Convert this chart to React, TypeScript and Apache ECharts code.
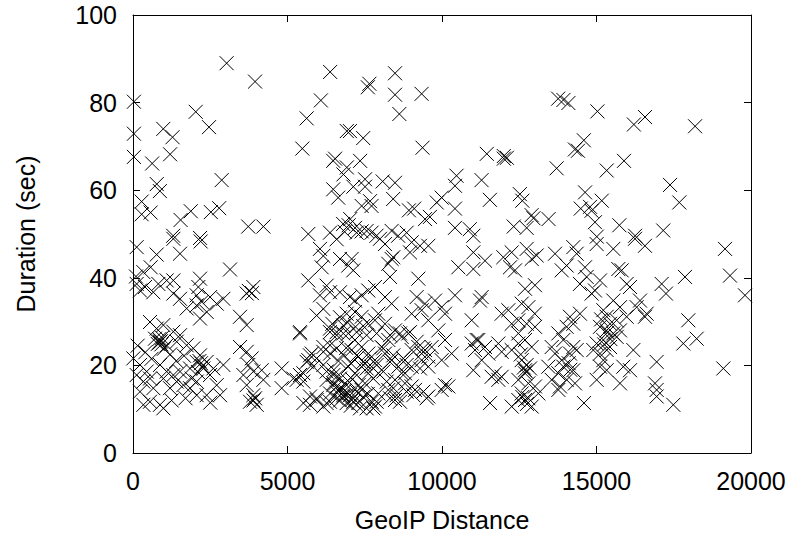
import React, { useEffect, useRef } from "react";
import * as echarts from "echarts";

// Tick labels
const xTicks = [0, 5000, 10000, 15000, 20000];
const yTicks = [0, 20, 40, 60, 80, 100];

// Points [GeoIP distance, duration (sec)], by region
const westHigh: number[][] = [
  [3030, 89.0], [3950, 84.8], [6380, 87.0], [30, 80.2], [6080, 80.5], [2030, 77.9], [5620, 76.4],
  [2460, 74.4], [980, 74.0], [1280, 72.1], [30, 72.9], [6920, 73.5], [1200, 68.2], [30, 67.6],
  [620, 66.1], [5480, 69.5], [6480, 66.7], [6540, 67.2], [6810, 63.6], [2870, 62.3], [770, 61.4],
  [870, 59.8], [280, 57.4], [6480, 60.2], [6640, 58.3], [280, 54.5], [570, 54.9], [1540, 53.2],
  [1870, 55.2], [2520, 55.0], [2790, 55.9], [3730, 51.7], [4220, 51.7], [1300, 49.6], [2170, 49.1],
  [6800, 52.3], [6850, 50.5],
];

const centralHigh: number[][] = [
  [8480, 86.7], [7600, 83.5], [7650, 84.3], [8480, 81.8], [9340, 82.0], [8620, 77.4], [13760, 80.9],
  [7020, 73.5], [7450, 71.9], [9370, 69.7], [11450, 68.3], [12000, 67.8], [12100, 67.4], [13710, 65.0],
  [7350, 66.7], [6920, 65.2], [10470, 63.3], [11280, 62.3], [8480, 61.7], [7510, 62.5], [7510, 60.8],
  [7130, 60.8], [8080, 62.0], [10420, 61.0], [12520, 59.1], [12600, 57.6], [11550, 57.8], [9990, 58.3],
  [8420, 58.0], [7670, 57.5], [7720, 56.4], [7400, 56.4], [9830, 57.2], [10420, 55.8], [8930, 55.4],
  [9100, 55.8], [12900, 54.3], [12960, 53.6], [13450, 53.4], [9610, 53.9], [9450, 53.4], [7030, 53.4],
  [6980, 52.0], [10420, 51.4], [10900, 51.1], [12320, 51.7], [12740, 51.4], [7720, 50.3], [7880, 49.6],
  [8370, 50.7], [8580, 49.6], [7185, 51.4], [7400, 50.6],
];

const eastHigh: number[][] = [
  [13930, 80.6], [14090, 79.9], [15030, 78.0], [16210, 75.0], [16570, 76.7], [18190, 74.6], [14590, 71.4],
  [14300, 69.3], [14400, 69.0], [15330, 64.5], [15890, 66.7], [17380, 61.2], [17680, 57.2], [14630, 59.5],
  [15170, 57.6], [14490, 55.8], [14790, 56.2], [14840, 55.3], [14950, 52.7], [15740, 52.0], [16250, 49.6],
  [17160, 50.8], [15010, 49.4],
];

const westMid: number[][] = [
  [1306, 48.9], [2190, 48.3], [119, 47.0], [766, 45.3], [1522, 45.5], [572, 42.4], [335, 41.3],
  [97, 40.3], [3140, 41.9], [119, 38.6], [389, 37.9], [820, 38.6], [1090, 39.4], [1306, 39.4],
  [2169, 39.8], [2115, 37.9], [3895, 37.9], [3750, 37.0], [3850, 36.5],
  [4165, 18.9], [4219, 16.7], [4812, 19.3], [4812, 14.8], [5298, 16.7], [5514, 18.2], [5676, 21.2],
  [5838, 19.7], [5784, 22.7], [5514, 11.4], [5730, 12.9], [5945, 12.1], [6161, 10.6], [6377, 13.6],
  [6593, 15.2], [6161, 24.2], [6377, 22.7], [6269, 16.7], [6485, 15.9], [6701, 14.4], [6809, 12.9],
  [6593, 17.4],
];

const westLow: number[][] = [
  [227, 37.1], [658, 36.7], [1306, 36.4], [1522, 35.2], [2061, 36.0], [2223, 34.5], [2493, 35.6],
  [2709, 34.1], [2924, 35.2], [3680, 36.4], [1737, 33.0], [2061, 33.7], [2385, 32.2], [2169, 30.7],
  [3464, 31.1], [3680, 29.2], [550, 29.9], [982, 29.2], [1306, 27.7], [1522, 26.9], [766, 28.4],
  [874, 25.4], [712, 26.1], [900, 25.5], [850, 26.0], [920, 24.8], [1090, 24.6], [1414, 25.4],
  [1737, 24.6], [1953, 23.9], [2169, 22.3], [2061, 20.8], [2385, 20.8], [2277, 19.3], [2200, 20.5],
  [2150, 21.0], [2601, 19.3], [2493, 17.8], [1845, 19.3], [2924, 20.1], [11, 21.6], [227, 20.1],
  [119, 17.8], [443, 18.6], [335, 16.3], [550, 17.0], [658, 14.8], [227, 14.0], [550, 11.7],
  [335, 11.0], [874, 20.1], [1090, 18.6], [982, 17.0], [1306, 17.8], [1522, 18.6], [1414, 16.3],
  [1630, 15.5], [1198, 14.8], [1845, 14.8], [2061, 16.3], [2061, 13.2], [2385, 13.2], [2709, 15.5],
  [2817, 13.2], [874, 11.0], [982, 10.2], [3464, 24.2], [3680, 23.1], [3841, 21.6], [3733, 20.1],
  [3895, 18.6], [3572, 17.8], [3680, 15.5], [3895, 13.2], [3787, 11.7], [4003, 11.0], [3950, 12.5],
  [3900, 12.0],
];

const centralUpper: number[][] = [
  [5673, 50.0], [6375, 50.3], [6591, 48.8], [7238, 50.3], [7562, 50.7], [8856, 50.3], [6051, 46.6],
  [6159, 45.0], [6699, 44.3], [6105, 42.4], [5673, 39.4], [6267, 38.2], [6375, 36.7], [6699, 36.7],
  [6051, 36.0], [6159, 32.9], [5943, 31.4], [5404, 27.6], [6375, 28.4], [6591, 27.6], [6806, 29.1],
];

const centralLow: number[][] = [
  [5404, 27.3], [6375, 27.6], [6591, 26.9], [6806, 27.3], [7238, 27.6], [7562, 26.9], [7885, 27.3],
  [8317, 26.9], [8641, 27.3], [8964, 27.6], [5727, 22.3], [5620, 20.8], [5943, 21.6], [6159, 23.1],
  [6375, 24.6], [6591, 23.9], [5188, 17.0], [5404, 17.8], [5512, 16.3], [6159, 20.1], [6267, 18.6],
  [6483, 17.8], [6699, 17.0], [6483, 15.5], [6699, 14.8], [6914, 15.5], [6806, 13.2], [6591, 12.5],
  [6375, 11.7], [7022, 13.2], [7130, 11.7], [7238, 14.0], [7346, 10.2], [7238, 22.3], [7454, 20.8],
  [7670, 21.6], [7562, 19.3], [7885, 20.1], [8101, 18.6], [7777, 17.0], [8101, 23.9], [8425, 22.3],
  [8317, 20.8], [8749, 21.6], [8856, 20.1], [9180, 25.4], [9396, 23.9], [9288, 19.3], [8209, 16.3],
  [8425, 14.8], [8533, 13.2], [8317, 12.5], [8641, 11.7], [8856, 14.0], [9072, 13.2], [7777, 10.2],
  [7562, 10.2], [7885, 11.7], [5727, 11.0], [5943, 12.5], [6267, 11.4], [9396, 14.0], [9504, 12.5],
];

const centralEast: number[][] = [
  [7993, 48.9], [8155, 47.7], [9018, 48.1], [9288, 47.3], [8964, 45.8], [9558, 47.3], [11014, 49.6],
  [7076, 44.3], [6968, 42.8], [7130, 41.7], [8371, 44.3], [8263, 43.2], [8425, 44.7], [11014, 45.8],
  [11392, 43.9], [10529, 42.4], [11014, 42.0], [11985, 44.7], [12255, 45.8], [12363, 41.7], [12201, 42.4],
  [12741, 46.6], [12903, 44.3], [13064, 45.1], [13658, 45.5], [13874, 41.7], [12687, 37.5], [13010, 38.3],
  [8317, 40.2], [9234, 39.8], [9180, 35.6], [9450, 34.1], [9774, 34.8], [9989, 33.3], [10421, 36.0],
  [11230, 34.8], [11284, 35.6], [7615, 37.1], [7831, 37.9], [7400, 36.0], [7022, 35.6], [7184, 34.8],
  [8155, 35.6], [8371, 34.1], [6914, 31.8], [7184, 32.2], [7400, 31.1], [7615, 29.5], [7831, 30.3],
  [7939, 31.8], [8155, 29.5], [8479, 28.0], [8695, 26.5], [8910, 27.3], [9018, 31.8], [9342, 32.6],
  [9558, 30.3], [10097, 31.8], [9882, 28.0], [10097, 25.8], [10313, 22.7], [9989, 21.2], [9558, 19.7],
  [9450, 23.5], [9666, 24.2], [9558, 22.0], [9342, 22.7], [10961, 30.3], [10961, 25.0], [11176, 25.8],
  [11392, 24.2], [11068, 23.5], [11931, 31.8], [12147, 32.6], [12255, 29.5], [12471, 30.3], [12579, 34.1],
  [12795, 33.3], [13002, 31.8], [12741, 29.5], [13010, 28.8], [12471, 27.3], [12687, 25.8], [12903, 24.2],
  [12471, 25.0], [12255, 23.5], [11824, 25.0], [11931, 23.1], [12579, 21.2], [12741, 20.1], [12687, 18.9],
  [12849, 19.3], [12687, 18.2], [12471, 16.7], [12795, 15.9], [12579, 13.6], [12687, 12.1], [12795, 12.5],
  [12471, 12.1], [12903, 10.6], [12255, 10.6], [13118, 13.6], [13010, 15.2], [11014, 18.9], [11608, 17.4],
  [11716, 18.2], [11931, 17.4], [11824, 16.7], [11284, 21.2], [11500, 22.7], [11122, 25.8], [11554, 11.4],
  [10097, 15.5], [9989, 14.4], [10205, 15.2], [9558, 12.9], [8479, 12.1], [8263, 14.4], [7939, 13.6],
  [7723, 11.7], [7831, 10.6], [6968, 13.6], [7076, 12.1], [7184, 12.9], [7292, 11.4], [6914, 11.4],
  [7400, 14.4], [7508, 15.9], [8479, 16.7], [8695, 18.2], [8802, 15.9], [9018, 15.2], [9126, 14.4],
  [6968, 27.3], [7184, 25.8], [7400, 24.2], [7615, 22.7], [7831, 21.2], [7076, 23.5], [7292, 22.0],
  [7508, 20.5], [7723, 19.7], [7939, 18.2], [6968, 19.7], [7184, 18.2], [7400, 19.7], [7615, 18.2],
  [8047, 24.2], [8263, 25.8], [8155, 22.7], [8371, 21.2], [8587, 19.7], [8802, 21.2], [9018, 23.5],
  [9234, 24.2], [9342, 21.2], [9018, 19.7], [8802, 18.2], [13766, 27.3], [13550, 24.2], [13658, 22.7],
  [13874, 21.2], [13766, 18.2], [13442, 19.7], [13550, 16.7], [13766, 14.4],
];

const eastLow: number[][] = [
  [19159, 46.6], [19321, 40.5], [19806, 36.0], [17864, 40.2], [17109, 38.6], [17249, 36.4], [16569, 47.3],
  [16246, 48.9], [15544, 46.6], [15005, 47.7], [14250, 47.0], [14358, 45.5], [14034, 42.8], [14627, 42.4],
  [14681, 40.2], [14465, 38.6], [15113, 39.4], [14951, 37.1], [14843, 36.4], [15706, 42.0], [15814, 41.7],
  [15976, 38.6], [16084, 37.9], [16408, 34.8], [16623, 31.8], [16569, 31.1], [16300, 33.3], [15544, 34.8],
  [15760, 33.3], [15976, 31.1], [15652, 30.3], [15221, 32.6], [15329, 31.1], [15437, 29.5], [15113, 28.8],
  [15329, 28.0], [15544, 27.3], [15760, 28.0], [15652, 26.5], [15221, 25.8], [15005, 25.0], [15437, 24.2],
  [15329, 23.5], [15113, 22.7], [14897, 23.5], [14250, 29.5], [14142, 31.1], [14034, 28.8], [14465, 31.8],
  [13926, 25.8], [14250, 24.2], [14358, 23.5], [14142, 22.7], [13926, 19.7], [14250, 18.9], [14034, 16.7],
  [14304, 15.9], [13818, 15.2], [15221, 21.2], [15113, 19.7], [15329, 18.9], [15005, 16.7], [15760, 15.9],
  [15868, 19.7], [16084, 18.9], [16192, 23.5], [14595, 11.4], [16947, 20.8], [16893, 15.9], [16947, 14.4],
  [16947, 12.9], [17486, 11.0], [17972, 30.3], [18242, 26.1], [17810, 25.0], [19105, 19.3],
];

// Extra overlapping marks in the darkest cores of the clusters
const denseCores: number[][] = [
  [860, 25.2], [940, 26.3], [800, 24.9], [1000, 23.8], [1200, 22.5], [1400, 21.0], [1650, 22.2],
  [2250, 19.8], [2100, 18.5], [1900, 17.0], [600, 21.5], [400, 23.0], [150, 24.5], [1700, 12.5],
  [2500, 11.5], [1250, 12.0], [6600, 13.8], [6700, 12.0], [6850, 14.2], [6950, 16.5], [7050, 10.8],
  [6500, 19.0], [6650, 21.0], [6800, 22.5], [6900, 24.0], [7100, 16.8], [7300, 15.5], [7450, 12.8],
  [7600, 13.5], [6450, 29.5], [6700, 31.0], [6950, 29.8], [7200, 28.8], [7450, 29.0], [7050, 20.5],
  [12650, 19.5], [12720, 18.6], [12600, 12.8], [12750, 11.2], [12550, 22.5], [15350, 27.5],
  [15250, 24.8], [15450, 26.0], [15150, 30.5], [14100, 20.5], [14150, 19.0], [12000, 67.2],
];

const FONT = "'Liberation Sans', Arial, Helvetica, sans-serif";

export default function App() {
  const ref = useRef<HTMLDivElement>(null);

  useEffect(() => {
    if (!ref.current) return;
    const chart = echarts.init(ref.current, undefined, { renderer: "svg" });
    const data = [
      ...westHigh, ...centralHigh, ...eastHigh, ...westMid, ...westLow,
      ...centralUpper, ...centralLow, ...centralEast, ...eastLow, ...denseCores,
    ];
    const axisLine = { show: true, onZero: false, lineStyle: { color: "#000", width: 1 } };
    const axisTick = { show: true, inside: true, length: 7, lineStyle: { color: "#000", width: 1 } };
    const xMin = xTicks[0];
    const xMax = xTicks[xTicks.length - 1];
    const xInt = xTicks[1] - xTicks[0];
    const yMin = yTicks[0];
    const yMax = yTicks[yTicks.length - 1];
    const yInt = yTicks[1] - yTicks[0];
    const plain = (v: number) => String(v);
    chart.setOption({
      animation: false,
      grid: { left: 133, right: 42, top: 15, bottom: 82 },
      xAxis: [
        {
          type: "value", min: xMin, max: xMax, interval: xInt, position: "bottom",
          name: "GeoIP Distance", nameLocation: "middle", nameGap: 54,
          nameTextStyle: { fontSize: 25, color: "#000", fontFamily: FONT },
          axisLine, axisTick,
          axisLabel: { fontSize: 25, color: "#000", margin: 15, fontFamily: FONT, formatter: plain },
          splitLine: { show: false },
        },
        {
          type: "value", min: xMin, max: xMax, interval: xInt, position: "top",
          axisLine, axisTick, axisLabel: { show: false }, splitLine: { show: false },
        },
      ],
      yAxis: [
        {
          type: "value", min: yMin, max: yMax, interval: yInt, position: "left",
          name: "Duration (sec)", nameLocation: "middle", nameGap: 95, nameRotate: 90,
          nameTextStyle: { fontSize: 25, color: "#000", fontFamily: FONT },
          axisLine, axisTick,
          axisLabel: { fontSize: 25, color: "#000", margin: 16, fontFamily: FONT, formatter: plain },
          splitLine: { show: false },
        },
        {
          type: "value", min: yMin, max: yMax, interval: yInt, position: "right",
          axisLine, axisTick, axisLabel: { show: false }, splitLine: { show: false },
        },
      ],
      series: [
        {
          type: "scatter",
          xAxisIndex: 0,
          yAxisIndex: 0,
          data,
          symbol: "path://M0 0L10 10M10 0L0 10",
          symbolSize: 14,
          silent: true,
          itemStyle: { color: "none", borderColor: "#000", borderWidth: 1, opacity: 1 },
        },
      ],
    });
    return () => chart.dispose();
  }, []);

  return (
    <div
      ref={ref}
      style={{ position: "fixed", left: 0, top: 0, width: 793, height: 537, background: "#fff" }}
    />
  );
}
